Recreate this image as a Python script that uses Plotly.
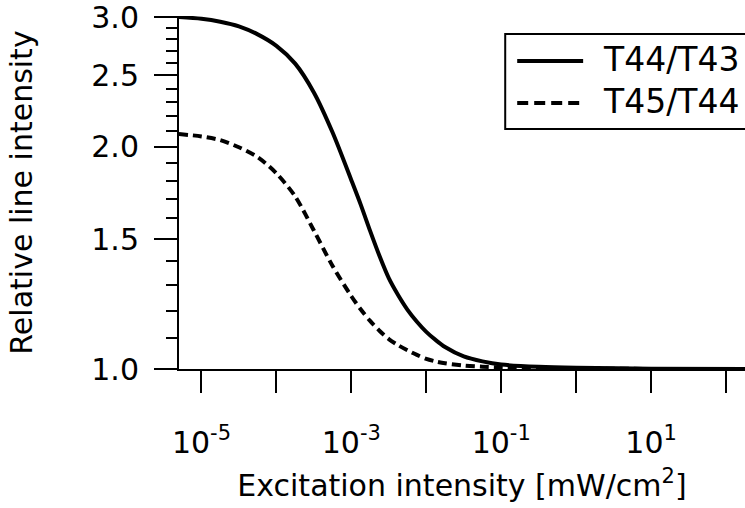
import plotly.graph_objects as go

# Excitation intensity [mW/cm^2]
intensity = [5.0e-6, 1e-5, 1.78e-5, 3.16e-5, 5.62e-5, 1e-4, 1.78e-4, 3.16e-4, 5.62e-4,
             1e-3, 1.33e-3, 1.78e-3, 2.37e-3, 3.16e-3, 4.22e-3, 5.62e-3, 7.5e-3,
             1e-2, 1.33e-2, 1.78e-2, 3.16e-2, 5.62e-2,
             0.1, 0.316, 1.0, 10.0, 180.0]

# Relative line intensity, T44/T43 (solid)
ratio_44_43 = [3.000, 2.984, 2.957, 2.914, 2.842, 2.742, 2.594, 2.371, 2.092,
               1.803, 1.672, 1.539, 1.424, 1.328, 1.259, 1.203, 1.159,
               1.123, 1.095, 1.071, 1.040, 1.024,
               1.014, 1.007, 1.0038, 1.001, 1.000]

# Relative line intensity, T45/T44 (dashed)
ratio_45_44 = [2.082, 2.067, 2.043, 1.998, 1.937, 1.842, 1.714, 1.541, 1.379,
               1.255, 1.205, 1.162, 1.127, 1.098, 1.077, 1.060, 1.045,
               1.032, 1.024, 1.018, 1.011, 1.0072,
               1.005, 1.0022, 1.001, 1.0003, 1.000]

series_names = ["T44/T43", "T45/T44"]

x_tickvals = [1e-5, 1e-3, 1e-1, 1e1]
x_ticktext = ["10<sup>-5</sup>", "10<sup>-3</sup>", "10<sup>-1</sup>", "10<sup>1</sup>"]
x_unlabeled = [1e-4, 1e-2, 1e0, 1e2]
y_tickvals = [1.0, 1.5, 2.0, 2.5, 3.0]
y_ticktext = ["1.0", "1.5", "2.0", "2.5", "3.0"]
y_minorvals = [1.1, 1.2, 1.3, 1.4, 1.6, 1.7, 1.8, 1.9,
               2.1, 2.2, 2.3, 2.4, 2.6, 2.7, 2.8, 2.9]

FONT = "DejaVu Sans"
W, H = 745, 508
ML, MT, MB, MR = 178.5, 16, 139, 0
PW = W - ML - MR
PH = H - MT - MB


def px_to_paper_x(px):
    return (px - ML) / PW


def px_to_paper_y(py):
    return (H - MB - py) / PH


fig = go.Figure()
fig.add_trace(go.Scatter(x=intensity, y=ratio_44_43, mode="lines",
                         name=series_names[0],
                         line=dict(color="black", width=4, shape="spline", smoothing=0.8),
                         showlegend=False))
fig.add_trace(go.Scatter(x=intensity, y=ratio_45_44, mode="lines",
                         name=series_names[1],
                         line=dict(color="black", width=4, dash="9px,5px",
                                   shape="spline", smoothing=0.8),
                         showlegend=False))

# Legend drawn manually (box runs off the right edge, as in the reference)
shapes = [
    dict(type="rect", xref="paper", yref="paper", x0=px_to_paper_x(505), x1=1.2,
         y0=px_to_paper_y(129), y1=px_to_paper_y(34),
         line=dict(color="black", width=2), fillcolor="white", layer="above"),
    dict(type="line", xref="paper", yref="paper", x0=px_to_paper_x(517), x1=px_to_paper_x(583),
         y0=px_to_paper_y(61), y1=px_to_paper_y(61),
         line=dict(color="black", width=4), layer="above"),
    dict(type="line", xref="paper", yref="paper", x0=px_to_paper_x(517), x1=px_to_paper_x(583),
         y0=px_to_paper_y(103), y1=px_to_paper_y(103),
         line=dict(color="black", width=4, dash="11px,6px"), layer="above"),
]
annotations = [
    dict(xref="paper", yref="paper", x=px_to_paper_x(601), y=px_to_paper_y(59),
         xanchor="left", yanchor="middle", text=series_names[0], showarrow=False,
         font=dict(family=FONT, size=33, color="black")),
    dict(xref="paper", yref="paper", x=px_to_paper_x(601), y=px_to_paper_y(101),
         xanchor="left", yanchor="middle", text=series_names[1], showarrow=False,
         font=dict(family=FONT, size=33, color="black")),
]

fig.update_layout(
    width=W, height=H,
    margin=dict(l=ML, r=MR, t=MT, b=MB, pad=0),
    paper_bgcolor="white", plot_bgcolor="white",
    font=dict(family=FONT, size=30, color="black"),
    showlegend=False,
    shapes=shapes,
    annotations=annotations,
    xaxis=dict(
        type="log", range=[-5.30, 2.2533], automargin=False,
        showgrid=False, zeroline=False,
        showline=True, linecolor="black", linewidth=2,
        ticks="outside", ticklen=22, tickwidth=2, tickcolor="black",
        tickmode="array", tickvals=x_tickvals, ticktext=x_ticktext,
        tickfont=dict(family=FONT, size=30, color="black"),
        ticklabelstandoff=24, ticklabeloverflow="allow",
        minor=dict(tickmode="array", tickvals=x_unlabeled, ticks="outside",
                   ticklen=22, tickwidth=2, tickcolor="black", showgrid=False),
        title=dict(text="Excitation intensity [mW/cm<sup>2</sup>]",
                   font=dict(family=FONT, size=30, color="black"), standoff=16),
    ),
    yaxis=dict(
        type="log", range=[0, 0.47857], automargin=False,
        showgrid=False, zeroline=False,
        showline=True, linecolor="black", linewidth=2,
        ticks="outside", ticklen=23, tickwidth=2, tickcolor="black",
        tickmode="array", tickvals=y_tickvals, ticktext=y_ticktext,
        tickfont=dict(family=FONT, size=30, color="black"),
        ticklabelstandoff=9, ticklabeloverflow="allow",
        minor=dict(tickmode="array", tickvals=y_minorvals, ticks="outside",
                   ticklen=11, tickwidth=2, tickcolor="black", showgrid=False),
        title=dict(text="Relative line intensity",
                   font=dict(family=FONT, size=30, color="black"), standoff=50),
    ),
)

fig.write_html("out.html")
